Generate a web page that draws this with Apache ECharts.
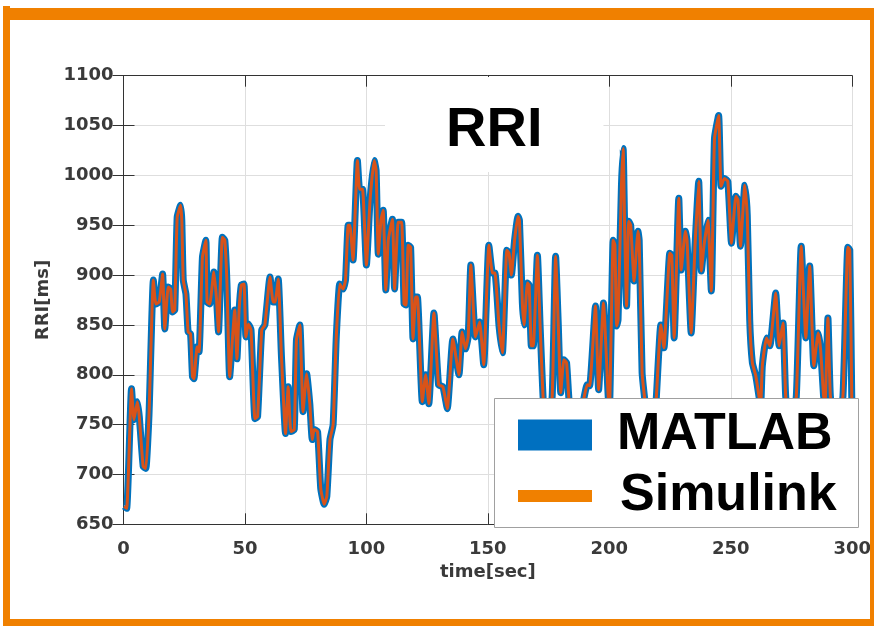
<!DOCTYPE html>
<html>
<head>
<meta charset="utf-8">
<script src="https://cdn.jsdelivr.net/npm/echarts@6/dist/echarts.min.js"></script>
<style>
  html, body { margin: 0; padding: 0; background: #fff; }
  #main { width: 874px; height: 626px; }
</style>
</head>
<body>
<div id="main"></div>
<script>
// time [sec] of each read-off point
const times = [
  0.3, 1.3, 2.0, 3.3, 4.3, 5.7, 6.5, 8.1, 9.2, 10.5,
  12.3, 13.3, 14.7, 16.1, 17.0, 18.4, 19.4, 20.2, 21.1, 22.1,
  23.5, 24.0, 24.6, 25.7, 26.6, 27.6, 28.4, 29.0, 30.3, 31.1,
  32.5, 33.9, 34.4, 35.5, 37.2, 38.3, 39.1, 40.7, 41.7, 42.6,
  43.7, 45.8, 46.7, 47.6, 48.5, 49.6, 50.4, 51.4, 52.5, 54.1,
  55.2, 56.9, 58.2, 60.3, 61.6, 62.4, 63.7, 65.0, 66.7, 67.8,
  68.9, 70.3, 71.2, 72.6, 73.9, 75.4, 76.7, 77.7, 78.5, 79.9,
  81.2, 82.6, 83.7, 85.0, 86.3, 87.6, 89.0, 90.4, 91.4, 92.5,
  93.2, 94.5, 96.3, 97.2, 98.4, 100.0, 101.5, 103.2, 104.0, 104.9,
  106.0, 106.9, 108.0, 109.0, 110.7, 111.6, 113.1, 114.5, 115.5, 116.3,
  117.2, 118.2, 119.2, 120.3, 121.0, 123.0, 124.4, 125.7, 127.8, 129.7,
  131.5, 133.3, 135.6, 138.1, 139.4, 140.8, 141.9, 143.0, 144.9, 146.6,
  148.3, 150.4, 151.9, 152.9, 154.6, 156.0, 157.8, 158.7, 159.7, 161.0,
  162.4, 163.0, 164.2, 164.9, 166.3, 167.0, 167.9, 168.7, 170.4, 171.5,
  172.8, 174.5, 176.5, 177.9, 179.0, 180.0, 181.3, 182.4, 183.4, 185.5,
  187.5, 189.6, 190.9, 191.9, 194.3, 195.6, 197.6, 199.4, 200.0, 201.6,
  202.3, 203.0, 203.6, 205.0, 205.7, 206.3, 207.1, 208.0, 208.8, 210.2,
  211.8, 212.3, 213.5, 214.6, 216.5, 218.0, 219.4, 221.2, 222.5, 224.9,
  225.7, 226.7, 228.6, 229.6, 231.3, 232.0, 233.7, 235.3, 236.8, 237.9,
  239.0, 240.6, 242.0, 243.3, 245.0, 246.0, 247.4, 248.8, 250.3, 252.1,
  253.0, 254.0, 255.8, 256.8, 257.8, 258.9, 260.3, 261.7, 262.3, 263.0,
  264.7, 266.1, 268.5, 269.9, 271.5, 272.6, 274.5, 277.0, 279.0, 280.9,
  282.5, 284.2, 286.0, 287.0, 288.2, 288.8, 290.0, 291.0, 293.5, 296.2,
  298.2, 299.0, 299.8, 300.0
];

// RRI [ms], MATLAB model output
const matlabRRI = [
  668, 666, 700, 786, 755, 773, 758, 708, 706, 760,
  895, 871, 873, 901, 846, 888, 886, 863, 865, 958,
  970, 955, 895, 881, 843, 841, 798, 796, 828, 823,
  918, 935, 873, 871, 903, 876, 843, 938, 935, 891,
  798, 865, 816, 865, 890, 891, 838, 851, 845, 756,
  758, 845, 850, 898, 873, 873, 896, 820, 741, 788,
  743, 745, 835, 850, 763, 801, 771, 735, 745, 743,
  686, 670, 678, 735, 750, 838, 891, 886, 895, 950,
  950, 915, 1015, 986, 986, 910, 975, 1015, 1005, 921,
  955, 965, 885, 935, 956, 886, 953, 953, 871, 870,
  930, 928, 836, 878, 878, 773, 800, 771, 862, 790,
  788, 766, 836, 800, 843, 826, 838, 910, 838, 853,
  810, 930, 902, 902, 849, 822, 925, 922, 900, 935,
  959, 955, 872, 850, 892, 890, 829, 829, 920, 850,
  775, 735, 779, 919, 850, 782, 815, 812, 775, 735,
  745, 777, 790, 789, 869, 785, 872, 785, 760, 935,
  930, 849, 855, 990, 1027, 950, 869, 954, 950, 894,
  944, 935, 802, 775, 735, 730, 779, 850, 827, 922,
  920, 837, 977, 905, 944, 935, 842, 930, 994, 904,
  930, 955, 884, 1037, 1060, 989, 997, 994, 932, 979,
  975, 929, 990, 960, 855, 812, 799, 777, 768, 809,
  837, 829, 882, 829, 852, 779, 735, 779, 929, 837,
  909, 809, 842, 825, 779, 770, 857, 779, 735, 779,
  928, 925, 779, 760
];

// RRI [ms], Simulink model output (overlaps the MATLAB trace)
const simulinkRRI = [
  668, 666, 700, 786, 755, 773, 758, 708, 706, 760,
  895, 871, 873, 901, 846, 888, 886, 863, 865, 958,
  970, 955, 895, 881, 843, 841, 798, 796, 828, 823,
  918, 935, 873, 871, 903, 876, 843, 938, 935, 891,
  798, 865, 816, 865, 890, 891, 838, 851, 845, 756,
  758, 845, 850, 898, 873, 873, 896, 820, 741, 788,
  743, 745, 835, 850, 763, 801, 771, 735, 745, 743,
  686, 670, 678, 735, 750, 838, 891, 886, 895, 950,
  950, 915, 1015, 986, 986, 910, 975, 1015, 1005, 921,
  955, 965, 885, 935, 956, 886, 953, 953, 871, 870,
  930, 928, 836, 878, 878, 773, 800, 771, 862, 790,
  788, 766, 836, 800, 843, 826, 838, 910, 838, 853,
  810, 930, 902, 902, 849, 822, 925, 922, 900, 935,
  959, 955, 872, 850, 892, 890, 829, 829, 920, 850,
  775, 735, 779, 919, 850, 782, 815, 812, 775, 735,
  745, 777, 790, 789, 869, 785, 872, 785, 760, 935,
  930, 849, 855, 990, 1027, 950, 869, 954, 950, 894,
  944, 935, 802, 775, 735, 730, 779, 850, 827, 922,
  920, 837, 977, 905, 944, 935, 842, 930, 994, 904,
  930, 955, 884, 1037, 1060, 989, 997, 994, 932, 979,
  975, 929, 990, 960, 855, 812, 799, 777, 768, 809,
  837, 829, 882, 829, 852, 779, 735, 779, 929, 837,
  909, 809, 842, 825, 779, 770, 857, 779, 735, 779,
  928, 925, 779, 760
];

const labelFont = 'DejaVu Sans';
const bigFont = 'Liberation Sans, Arial, sans-serif';
const frameColor = '#f08000';
const labelColor = '#3a3a3a';

const chart = echarts.init(document.getElementById('main'));

const axisCommon = {
  axisLine: { show: true, lineStyle: { color: '#333', width: 1 } },
  axisTick: { show: true, inside: true, length: 11, lineStyle: { color: '#333' } }
};

chart.setOption({
  animation: false,
  backgroundColor: '#fff',
  title: {
    text: 'RRI',
    left: 385,
    top: 77,
    padding: [24, 61, 11, 61],
    backgroundColor: '#fff',
    textStyle: { fontFamily: bigFont, fontSize: 56, fontWeight: 'bold', color: '#000', lineHeight: 60 }
  },
  grid: { left: 123.5, right: 19, top: 75.7, bottom: 101.7 },
  xAxis: [
    Object.assign({
      type: 'value', min: 0, max: 300, interval: 50,
      name: 'time[sec]', nameLocation: 'middle', nameGap: 38,
      nameTextStyle: { fontFamily: labelFont, fontSize: 18, fontWeight: 'bold', color: labelColor },
      axisLabel: { fontFamily: labelFont, fontSize: 18, fontWeight: 'bold', color: labelColor, margin: 16,
        formatter: v => String(v) },
      splitLine: { show: true, lineStyle: { color: '#dedede' } }
    }, axisCommon),
    Object.assign({
      type: 'value', min: 0, max: 300, interval: 50, position: 'top',
      axisLabel: { show: false }, splitLine: { show: false }
    }, axisCommon)
  ],
  yAxis: [
    Object.assign({
      type: 'value', min: 650, max: 1100, interval: 50,
      name: 'RRI[ms]', nameLocation: 'middle', nameGap: 64, nameRotate: 90,
      nameTextStyle: { fontFamily: labelFont, fontSize: 18, fontWeight: 'bold', color: labelColor },
      axisLabel: { fontFamily: labelFont, fontSize: 18, fontWeight: 'bold', color: labelColor, margin: 10,
        formatter: v => String(v) },
      splitLine: { show: true, lineStyle: { color: '#dedede' } }
    }, axisCommon),
    Object.assign({
      type: 'value', min: 650, max: 1100, interval: 50, position: 'right',
      axisLabel: { show: false }, splitLine: { show: false }
    }, axisCommon)
  ],
  legend: [
    {
      data: [{ name: 'MATLAB', itemStyle: { color: '#0070c0' } }],
      left: 518, top: 409, padding: 0, z: 120,
      icon: 'rect', itemWidth: 74, itemHeight: 31,
      textStyle: { fontFamily: bigFont, fontSize: 52, fontWeight: 'bold', color: '#000', padding: [0, 0, 0, 20] }
    },
    {
      data: [{ name: 'Simulink', itemStyle: { color: frameColor } }],
      left: 518, top: 470, padding: 0, z: 120,
      icon: 'rect', itemWidth: 74, itemHeight: 12,
      textStyle: { fontFamily: bigFont, fontSize: 52, fontWeight: 'bold', color: '#000', padding: [0, 0, 0, 23] }
    }
  ],
  graphic: [
    { type: 'rect', z: 100, shape: { x: 494.5, y: 398.5, width: 364, height: 129 },
      style: { fill: '#fff', stroke: '#a0a0a0', lineWidth: 1 } },
    { type: 'rect', z: 200, shape: { x: 3, y: 8, width: 871, height: 12 }, style: { fill: frameColor } },
    { type: 'rect', z: 200, shape: { x: 3, y: 6, width: 7, height: 620 }, style: { fill: frameColor } },
    { type: 'rect', z: 200, shape: { x: 870, y: 8, width: 4, height: 618 }, style: { fill: frameColor } },
    { type: 'rect', z: 200, shape: { x: 3, y: 619, width: 871, height: 7 }, style: { fill: frameColor } }
  ],
  series: [
    {
      name: 'MATLAB', type: 'line', showSymbol: false, symbol: 'none', smooth: 0.15,
      data: times.map((t, i) => [t, matlabRRI[i]]),
      lineStyle: { color: '#0072bd', width: 7, join: 'round' },
      itemStyle: { color: '#0072bd' },
      z: 2
    },
    {
      name: 'Simulink', type: 'line', showSymbol: false, symbol: 'none', smooth: 0.15,
      data: times.map((t, i) => [t, simulinkRRI[i]]),
      lineStyle: { color: '#d95319', width: 3, join: 'round' },
      itemStyle: { color: '#d95319' },
      z: 3
    }
  ]
});
</script>
</body>
</html>
